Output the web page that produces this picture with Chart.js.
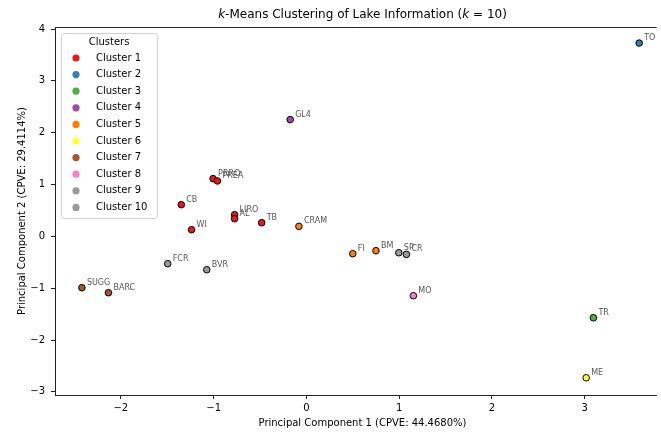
<!DOCTYPE html>
<html>
<head>
<meta charset="utf-8">
<script src="https://cdn.jsdelivr.net/npm/chart.js@4.4.1/dist/chart.umd.min.js"></script>
<style>
    html, body { margin: 0; padding: 0; background: #fff; }
</style>
</head>
<body>
<canvas id="myChart" width="661" height="432"></canvas>
<script>
// lake codes and their PCA scores
const lakes = ['PRRO', 'PREA', 'CB', 'WI', 'LIRO', 'AL', 'TB', 'TO', 'TR', 'GL4', 'CRAM',
    'FI', 'BM', 'ME', 'SUGG', 'BARC', 'MO', 'FCR', 'BVR', 'SP', 'CR'];
const pc1 = [-1.006, -0.959, -1.349, -1.238, -0.774, -0.774, -0.482, 3.587, 3.094, -0.175, -0.081,
    0.50, 0.750, 3.016, -2.42, -2.134, 1.153, -1.495, -1.074, 0.996, 1.078];
const pc2 = [1.114, 1.070, 0.612, 0.129, 0.419, 0.342, 0.264, 3.730, -1.570, 2.253, 0.193,
    -0.334, -0.276, -2.728, -0.99, -1.087, -1.145, -0.527, -0.643, -0.315, -0.347];
const cluster = [1, 1, 1, 1, 1, 1, 1, 2, 3, 4, 5, 5, 5, 6, 7, 7, 8, 9, 9, 10, 10];

const clusterNames = ['Cluster 1', 'Cluster 2', 'Cluster 3', 'Cluster 4', 'Cluster 5',
    'Cluster 6', 'Cluster 7', 'Cluster 8', 'Cluster 9', 'Cluster 10'];
const clusterColors = ['#e41a1c', '#377eb8', '#4daf4a', '#984ea3', '#ff7f00',
    '#ffff33', '#a65628', '#f781bf', '#999999', '#999999'];

const xTicks = [-2, -1, 0, 1, 2, 3];
const yTicks = [-3, -2, -1, 0, 1, 2, 3, 4];

const FONT = 'DejaVu Sans';

let datasets = clusterNames.map(function (name, c) {
    let pts = [];
    for (let i = 0; i < lakes.length; i++) {
        if (cluster[i] == c + 1) {
            pts.push({ x: pc1[i], y: pc2[i], name: lakes[i] });
        }
    }
    return {
        label: name,
        data: pts,
        backgroundColor: clusterColors[c],
        borderColor: '#000',
        borderWidth: 1,
        pointRadius: 3.3,
        pointHoverRadius: 3.3
    };
});

function minusSign(v) {
    return String(v).replace('-', '\u2212');
}

// lake names, title, axis titles, top spine and the legend box
const decorations = {
    id: 'decorations',
    afterDatasetsDraw: function (chart) {
        let ctx = chart.ctx;
        let area = chart.chartArea;
        ctx.save();

        ctx.font = '8px "' + FONT + '"';
        ctx.fillStyle = '#555';
        ctx.textAlign = 'left';
        ctx.textBaseline = 'middle';
        chart.data.datasets.forEach(function (ds, d) {
            let meta = chart.getDatasetMeta(d);
            meta.data.forEach(function (el, j) {
                ctx.fillText(ds.data[j].name, el.x + 5, el.y - 5);
            });
        });

        // top spine
        ctx.strokeStyle = '#222';
        ctx.lineWidth = 1;
        ctx.beginPath();
        ctx.moveTo(area.left, area.top + 0.5);
        ctx.lineTo(area.right, area.top + 0.5);
        ctx.stroke();

        // title with italic k
        let cx = 362.5;
        let parts = [['k', true], ['-Means Clustering of Lake Information (', false], ['k', true], [' = 10)', false]];
        let total = 0;
        for (let p of parts) {
            ctx.font = (p[1] ? 'italic ' : '') + '12px "' + FONT + '"';
            total += ctx.measureText(p[0]).width;
        }
        let tx = cx - total / 2;
        ctx.fillStyle = '#000';
        ctx.textBaseline = 'middle';
        for (let p of parts) {
            ctx.font = (p[1] ? 'italic ' : '') + '12px "' + FONT + '"';
            ctx.fillText(p[0], tx, 15);
            tx += ctx.measureText(p[0]).width;
        }

        // axis titles
        ctx.font = '10px "' + FONT + '"';
        ctx.textAlign = 'center';
        ctx.fillText('Principal Component 1 (CPVE: 44.4680%)', cx, 423);
        ctx.save();
        ctx.translate(22, (area.top + area.bottom) / 2);
        ctx.rotate(-Math.PI / 2);
        ctx.fillText('Principal Component 2 (CPVE: 29.4114%)', 0, 0);
        ctx.restore();

        // legend
        let lx = 61, ly = 33, lw = 96, lh = 185;
        ctx.fillStyle = 'rgba(255,255,255,0.8)';
        ctx.strokeStyle = '#d0d0d0';
        ctx.beginPath();
        ctx.roundRect(lx + 0.5, ly + 0.5, lw, lh, 3);
        ctx.fill();
        ctx.stroke();
        ctx.fillStyle = '#000';
        ctx.textAlign = 'center';
        ctx.fillText('Clusters', lx + lw / 2, 42);
        ctx.textAlign = 'left';
        chart.data.datasets.forEach(function (ds, d) {
            let y = 58 + d * 16.6;
            ctx.fillStyle = ds.backgroundColor;
            ctx.beginPath();
            ctx.arc(76, y, 3.6, 0, Math.PI * 2);
            ctx.fill();
            ctx.fillStyle = '#000';
            ctx.fillText(ds.label, 96, y);
        });

        ctx.restore();
    }
};

new Chart('myChart', {
    type: 'scatter',
    data: { datasets: datasets },
    plugins: [decorations],
    options: {
        responsive: false,
        animation: false,
        devicePixelRatio: 1,
        layout: { padding: { top: 27, right: 0, bottom: 0, left: 0 } },
        plugins: {
            legend: { display: false },
            title: { display: false },
            tooltip: { enabled: false }
        },
        scales: {
            x: {
                type: 'linear',
                min: -2.71,
                max: 3.776,
                afterBuildTicks: function (s) { s.ticks = xTicks.map(v => ({ value: v })); },
                afterFit: function (s) { s.height = 37; },
                ticks: {
                    font: { family: FONT, size: 10 }, color: '#000', padding: 3, maxRotation: 0,
                    callback: function (v) { return minusSign(v); }
                },
                grid: { drawOnChartArea: false, tickLength: 4, color: '#222' },
                border: { color: '#222', width: 1 }
            },
            y: {
                min: -3.06,
                max: 4.04,
                afterBuildTicks: function (s) { s.ticks = yTicks.map(v => ({ value: v })); },
                afterFit: function (s) { s.width = 55; },
                ticks: {
                    font: { family: FONT, size: 10 }, color: '#000', padding: 6,
                    callback: function (v) { return minusSign(v); }
                },
                grid: { drawOnChartArea: false, tickLength: 4, color: '#222' },
                border: { color: '#222', width: 1 }
            }
        }
    }
});
</script>
</body>
</html>
